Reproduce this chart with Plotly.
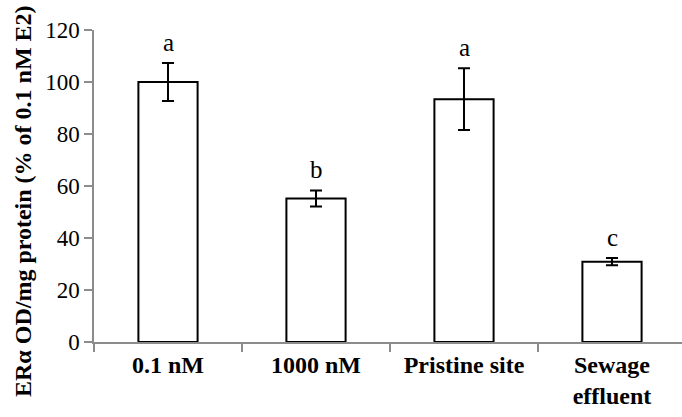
import plotly.graph_objects as go

categories = ["0.1 nM", "1000 nM", "Pristine site", "Sewage<br>effluent"]
means = [100.0, 55.2, 93.4, 30.9]
errors = [7.3, 3.1, 11.9, 1.4]
letters = ["a", "b", "a", "c"]
y_ticks = [0, 20, 40, 60, 80, 100, 120]

SERIF = "Liberation Serif, Times New Roman, serif"

fig = go.Figure()
fig.add_trace(go.Bar(
    x=categories, y=means, width=0.4,
    marker=dict(color="white", line=dict(color="black", width=2)),
    error_y=dict(type="data", array=errors, visible=True,
                 color="black", thickness=2, width=6),
    showlegend=False,
))

for c, m, e, l in zip(categories, means, errors, letters):
    fig.add_annotation(x=c, y=m + e, text=l, showarrow=False,
                       yanchor="bottom", yshift=5,
                       font=dict(family=SERIF, size=25, color="black"))

fig.add_annotation(xref="paper", yref="paper", x=(23 - 94) / 588, y=(342 - 201) / 312,
                   text="<b>ERα OD/mg protein (% of 0.1 nM E2)</b>",
                   textangle=-90, showarrow=False, xanchor="center", yanchor="middle",
                   font=dict(family=SERIF, size=24, color="black"))

fig.update_layout(
    width=682, height=417,
    margin=dict(l=94, r=0, t=30, b=75),
    plot_bgcolor="white", paper_bgcolor="white",
    bargap=0.6,
)
fig.update_xaxes(
    type="category", range=[-0.5, 3.473],
    showline=True, linecolor="#8c8c8c", linewidth=1.5,
    ticks="outside", tickson="boundaries", ticklen=8, tickcolor="#8c8c8c", tickwidth=1.5,
    tickfont=dict(family=SERIF, size=24, color="black", weight="bold"),
    showgrid=False, zeroline=False,
)
fig.update_yaxes(
    range=[0, 120], tickvals=y_ticks,
    showline=True, linecolor="#8c8c8c", linewidth=1.5,
    ticks="outside", ticklen=8, tickcolor="#8c8c8c", tickwidth=1.5,
    tickfont=dict(family=SERIF, size=23, color="black"),
    showgrid=False, zeroline=False,
)

fig.write_html("out.html")
